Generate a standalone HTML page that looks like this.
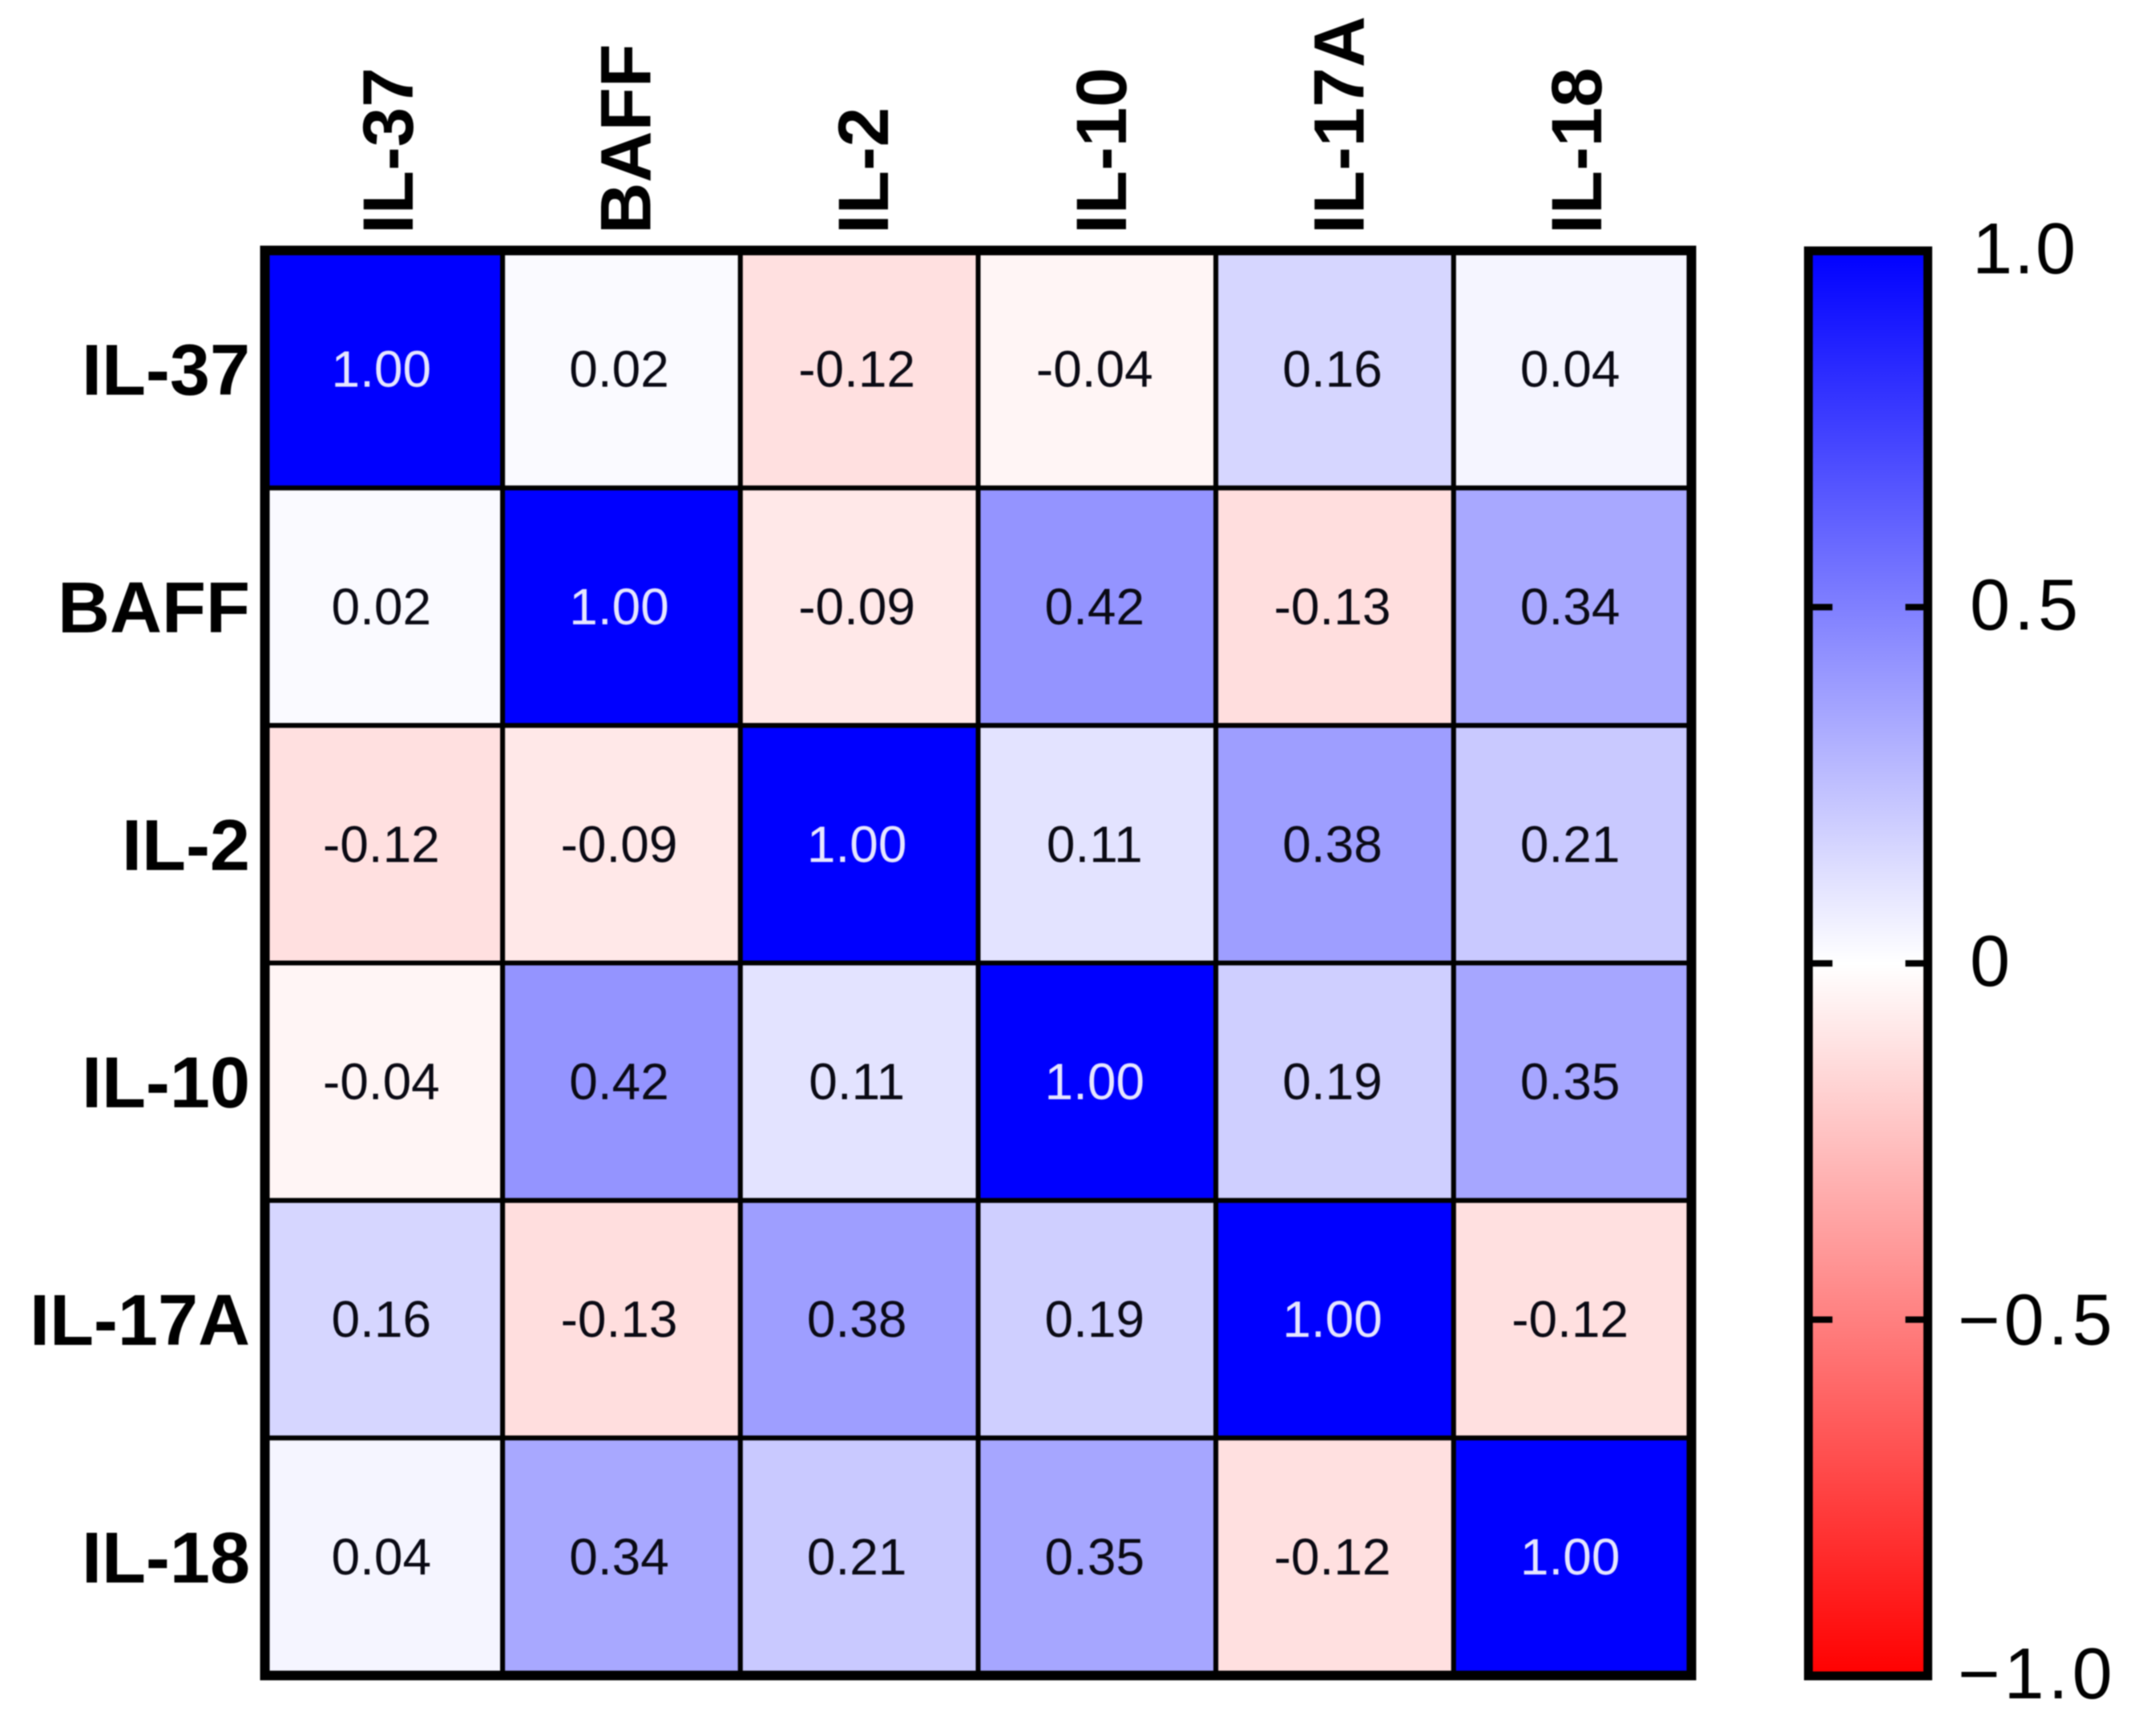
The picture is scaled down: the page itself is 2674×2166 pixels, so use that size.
<!DOCTYPE html>
<html lang="en">
<head>
<meta charset="utf-8">
<title>Cytokine correlation heatmap</title>
<style>
  html, body { margin: 0; padding: 0; background: #fff; }
  body { width: 2674px; height: 2166px; overflow: hidden; }
  svg { display: block; filter: blur(0.7px); }
  text { font-family: "Liberation Sans", sans-serif; }
</style>
</head>
<body>
<svg id="chart" xmlns="http://www.w3.org/2000/svg" width="2674" height="2166" viewBox="0 0 2674 2166">
  <defs>
    <linearGradient id="scale-gradient" x1="0" y1="0" x2="0" y2="1">
      <stop offset="0" stop-color="#0000ff"/>
      <stop offset="0.5" stop-color="#ffffff"/>
      <stop offset="1" stop-color="#ff0000"/>
    </linearGradient>
  </defs>
</svg>
<script>
const categories = ['IL-37', 'BAFF', 'IL-2', 'IL-10', 'IL-17A', 'IL-18'];
const rowIL37 = [1.00, 0.02, -0.12, -0.04, 0.16, 0.04];
const rowBAFF = [0.02, 1.00, -0.09, 0.42, -0.13, 0.34];
const rowIL2 = [-0.12, -0.09, 1.00, 0.11, 0.38, 0.21];
const rowIL10 = [-0.04, 0.42, 0.11, 1.00, 0.19, 0.35];
const rowIL17A = [0.16, -0.13, 0.38, 0.19, 1.00, -0.12];
const rowIL18 = [0.04, 0.34, 0.21, 0.35, -0.12, 1.00];
const matrix = [rowIL37, rowBAFF, rowIL2, rowIL10, rowIL17A, rowIL18];
const scaleTicks = [1, 0.5, 0, -0.5, -1];
const scaleTickLabels = ['1.0', '0.5', '0', '\u22120.5', '\u22121.0'];

const svgNS = 'http://www.w3.org/2000/svg';
const chart = document.getElementById('chart');

function make(tag, attrs, text) {
  const el = document.createElementNS(svgNS, tag);
  for (const k in attrs) el.setAttribute(k, attrs[k]);
  if (text !== undefined) el.textContent = text;
  chart.appendChild(el);
  return el;
}

// axis functions
const gridLeft = 330.5, gridTop = 312.5, gridW = 1780, gridH = 1778;
const xBand = i => gridLeft + i * gridW / categories.length;
const yBand = i => gridTop + i * gridH / categories.length;
const scaleZero = 1202, scaleHalfSpan = 889;
const yScale = v => scaleZero - v * scaleHalfSpan;

function cellColor(v) {
  const t = Math.min(1, Math.abs(v));
  const c = Math.round(255 * (1 - t));
  return v >= 0 ? `rgb(${c},${c},255)` : `rgb(255,${c},${c})`;
}

// heatmap cells
matrix.forEach((row, r) => {
  row.forEach((v, c) => {
    const cell = make('rect', {
      x: xBand(c), y: yBand(r),
      width: gridW / categories.length, height: gridH / categories.length,
      fill: cellColor(v), stroke: '#000', 'stroke-width': 6
    });
    
    
  });
});

// printed values
matrix.forEach((row, r) => {
  row.forEach((v, c) => {
    const label = make('text', {
      x: xBand(c) + gridW / 12 - 3, y: yBand(r) + gridH / 12 + 22,
      'text-anchor': 'middle', 'font-size': 64,
      fill: v >= 0.995 ? '#e6e6ff' : '#0a0a14'
    }, v.toFixed(2));
    
    
  });
});

// outer frame
const frame = make('rect', {
  x: gridLeft, y: gridTop, width: gridW, height: gridH,
  fill: 'none', stroke: '#000', 'stroke-width': 12
});



// row labels
categories.forEach((name, i) => {
  const label = make('text', {
    x: 312, y: yBand(i) + gridH / 12 + 32,
    'text-anchor': 'end', 'font-size': 90, 'font-weight': 'bold', fill: '#000'
  }, name);
  
  
});

// column labels
categories.forEach((name, i) => {
  const bx = xBand(i) + gridW / 12 + 36;
  const by = 292;
  const label = make('text', {
    x: bx, y: by, transform: `rotate(-90 ${bx} ${by})`,
    'text-anchor': 'start', 'font-size': 89, 'font-weight': 'bold', fill: '#000'
  }, name);
  
  
});

// color scale bar
const barLeft = 2256.5, barRight = 2405.5;
const bar = make('rect', {
  x: barLeft, y: yScale(1), width: barRight - barLeft, height: yScale(-1) - yScale(1),
  fill: 'url(#scale-gradient)', stroke: '#000', 'stroke-width': 11
});



scaleTicks.forEach((v, i) => {
  if (Math.abs(v) < 1) {
    const tl = make('line', { x1: barLeft, x2: barLeft + 30, y1: yScale(v), y2: yScale(v), stroke: '#000', 'stroke-width': 8 });
    
    
    const tr = make('line', { x1: barRight - 28, x2: barRight, y1: yScale(v), y2: yScale(v), stroke: '#000', 'stroke-width': 8 });
    
    
  }
  const lbl = make('text', {
    x: v < 0 ? 2443 : (v === 1 ? 2461 : 2458), y: yScale(v) + (v === -0.5 ? 31 : 28),
    'font-size': 90, fill: '#000', 'letter-spacing': v === 1 ? 2 : 5
  }, scaleTickLabels[i]);
  
  
});
</script>
</body>
</html>
